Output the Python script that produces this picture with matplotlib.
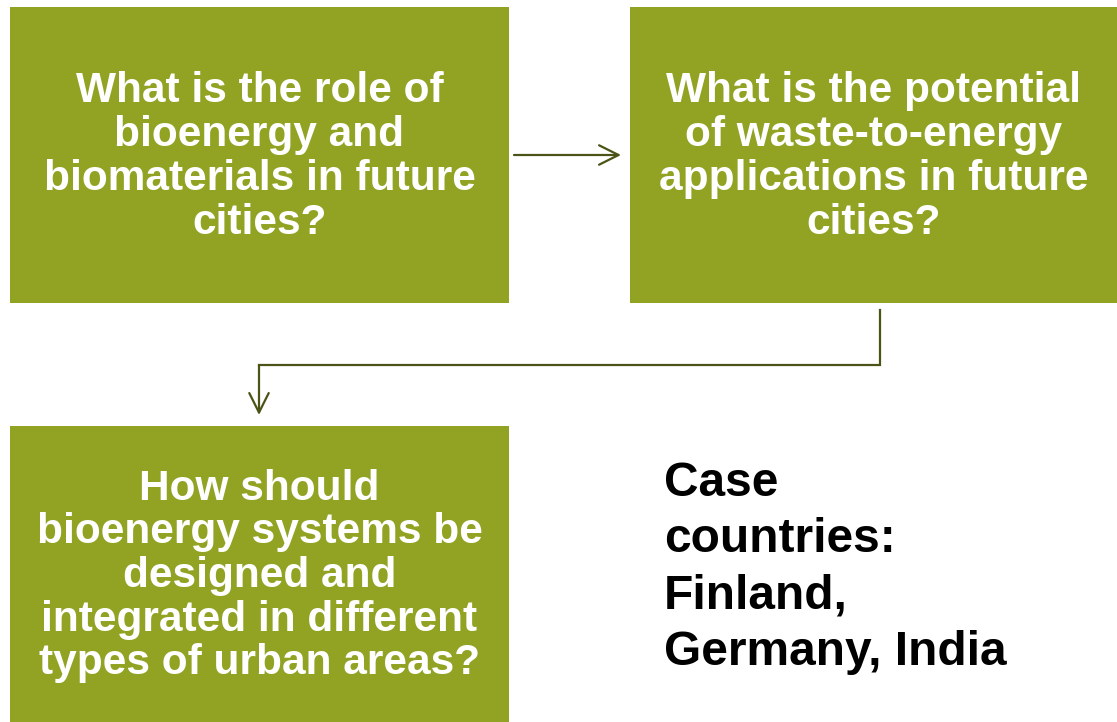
import matplotlib.pyplot as plt
from matplotlib.patches import Rectangle

# ==============================
# CONTENT
# ==============================

box_texts = [
    "What is the role of\nbioenergy and\nbiomaterials in future\ncities?",
    "What is the potential\nof waste-to-energy\napplications in future\ncities?",
    "How should\nbioenergy systems be\ndesigned and\nintegrated in different\ntypes of urban areas?",
]
# box extents in pixels: x0, y0, x1, y1
box_x0 = [10, 630, 10]
box_y0 = [7, 7, 426]
box_x1 = [509, 1117, 509]
box_y1 = [303, 303, 722]

side_note = "Case\ncountries:\nFinland,\nGermany, India"

BOX_COLOR = "#92a323"
ARROW_COLOR = "#4b5316"

# ==============================
# FIGURE
# ==============================

W, H = 1117, 722
fig = plt.figure(figsize=(W / 100, H / 100), dpi=100)
ax = fig.add_axes([0, 0, 1, 1])
ax.set_xlim(0, W)
ax.set_ylim(H, 0)
ax.axis("off")

for txt, x0, y0, x1, y1 in zip(box_texts, box_x0, box_y0, box_x1, box_y1):
    ax.add_patch(Rectangle((x0, y0), x1 - x0, y1 - y0,
                           facecolor=BOX_COLOR, edgecolor="none"))
    ax.text((x0 + x1) / 2, (y0 + y1) / 2 + 2, txt,
            ha="center", va="center", color="white",
            fontsize=30.5, fontweight="bold", family="Liberation Sans",
            linespacing=1.12)

head = "->,head_length=1.4,head_width=0.7"

# straight arrow between the top boxes
ax.annotate("", xy=(621, 155), xytext=(514, 155),
            arrowprops=dict(arrowstyle=head, color=ARROW_COLOR, lw=1.6,
                            shrinkA=0, shrinkB=0))

# elbow connector from box 2 down to box 3
ax.plot([880, 880, 259], [310, 365, 365], color=ARROW_COLOR, lw=1.6,
        solid_joinstyle="miter", solid_capstyle="projecting")
ax.annotate("", xy=(259, 415), xytext=(259, 365),
            arrowprops=dict(arrowstyle=head, color=ARROW_COLOR, lw=1.6,
                            shrinkA=0, shrinkB=0))

ax.text(664, 568, side_note, ha="left", va="center", color="black",
        fontsize=34.5, fontweight="bold", family="Liberation Sans",
        linespacing=1.33)

fig.savefig("out.png", dpi=100)
